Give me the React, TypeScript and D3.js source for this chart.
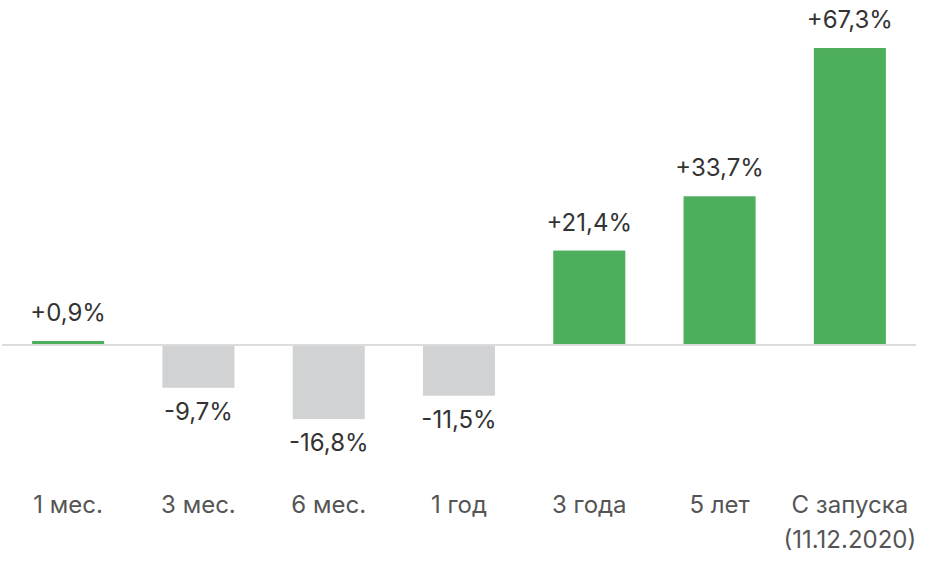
import React from 'react';
import * as d3 from 'd3';

const categories = ['1 мес.', '3 мес.', '6 мес.', '1 год', '3 года', '5 лет', 'С запуска\n(11.12.2020)'];
const values = [0.9, -9.7, -16.8, -11.5, 21.4, 33.7, 67.3];
const valueLabels = ['+0,9%', '-9,7%', '-16,8%', '-11,5%', '+21,4%', '+33,7%', '+67,3%'];

const width = 934;
const height = 566;
const font = 'Inter, "Noto Sans", sans-serif';

const App = () => {
  const x = d3.scaleBand()
    .domain(categories)
    .range([3, 915])
    .paddingInner(0.447)
    .paddingOuter(0.2235);

  const y = d3.scaleLinear()
    .domain([-25, 70])
    .range([455.3, 36.1]);

  const y0 = y(0);

  return (
    <svg width={width} height={height} style={{ position: 'absolute', left: 0, top: 0, background: '#fff' }}>
      {values.map((v, i) => {
        const c = categories[i];
        const top = Math.min(y(v), y0);
        const h = Math.abs(y(v) - y0);
        return (
          <rect key={c} x={x(c)} y={top} width={x.bandwidth()} height={h}
            fill={v >= 0 ? '#4dae5b' : '#d1d2d4'} />
        );
      })}
      <line x1={2} x2={916} y1={y0} y2={y0} stroke="#dcdcdc" strokeWidth={2} />
      {values.map((v, i) => {
        const c = categories[i];
        const cx = x(c)! + x.bandwidth() / 2;
        const ty = v >= 0 ? y(v) - 20 : y(v) + 32;
        return (
          <text key={c} x={cx} y={ty} textAnchor="middle" fontFamily={font}
            fontSize={24} fill="#333">{valueLabels[i]}</text>
        );
      })}
      {categories.map(c => {
        const cx = x(c)! + x.bandwidth() / 2;
        return (
          <text key={c} x={cx} y={513} textAnchor="middle" fontFamily={font}
            fontSize={24} fill="#555">
            {c.split('\n').map((line, j) => (
              <tspan key={j} x={cx} dy={j === 0 ? 0 : 35}>{line}</tspan>
            ))}
          </text>
        );
      })}
    </svg>
  );
};

export default App;
